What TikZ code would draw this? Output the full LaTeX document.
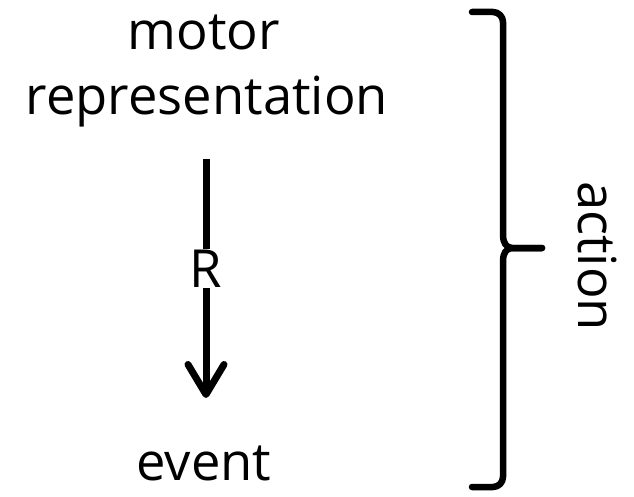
\documentclass[tikz,border=0pt]{standalone}
\usepackage{fontspec}
\setmainfont{Open Sans}
\usetikzlibrary{arrows.meta}
\begin{document}
\begin{tikzpicture}[x=1pt,y=-1pt,
  lbl/.style={font=\fontsize{52.5}{60}\selectfont, inner sep=0pt, anchor=base},
  arr/.style={line width=7pt, -{Straight Barb[length=30pt,width=36pt,round]}},
  brace/.style={line width=6.5pt, line cap=round, line join=round}]
\useasboundingbox (0,0) rectangle (634,497);
\node[lbl] (motor) at (204,50) {motor};
\node[lbl] (rep) at (207,115) {representation};
\node[lbl] (event) at (204,480) {event};
\coordinate (atop) at (206,159);
\coordinate (atip) at (206,398);
\draw[arr] (atop) -- (atip);
\node[lbl, fill=white, inner sep=1pt] (R) at (206,287) {R};
\coordinate (b1) at (472,12);
\coordinate (b2) at (542,248);
\coordinate (b3) at (472,487);
\draw[brace] (b1) -- (493,12) to[out=0,in=90] (503,22) -- (503,236)
  to[out=-90,in=180] (512,248) -- (b2);
\draw[brace] (b2) -- (512,248) to[out=180,in=90] (503,260) -- (503,477)
  to[out=-90,in=0] (493,487) -- (b3);
\node[lbl, rotate=-90] (action) at (578,256) {action};
\end{tikzpicture}
\end{document}
